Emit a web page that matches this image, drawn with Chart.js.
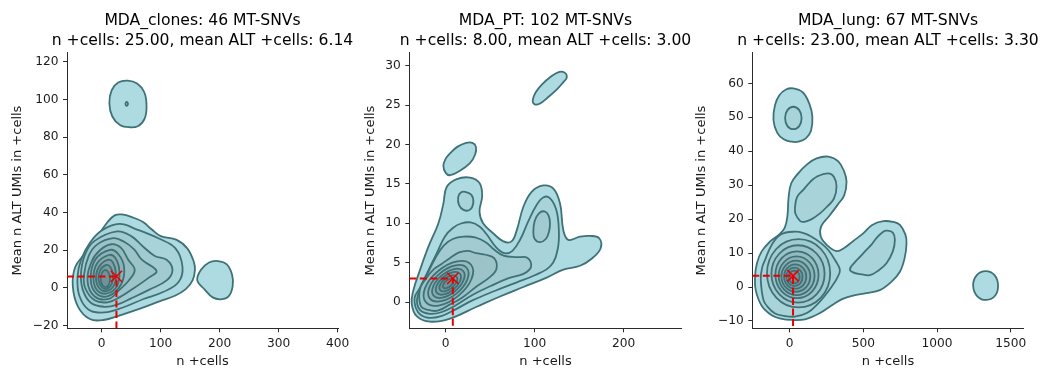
<!DOCTYPE html>
<html><head><meta charset="utf-8">
<script src="https://cdn.jsdelivr.net/npm/chart.js@4.4.1/dist/chart.umd.min.js"></script>
<style>
html,body{margin:0;padding:0;background:#fff;width:1045px;height:372px;overflow:hidden;position:relative}
canvas{position:absolute;top:0}
</style></head><body>
<canvas id="c1" width="405" height="372" style="left:0px"></canvas>
<canvas id="c2" width="401" height="372" style="left:345px"></canvas>
<canvas id="c3" width="396" height="372" style="left:690px"></canvas>
<script>
// ---------- summary values ----------
const sampleNames = ['MDA_clones', 'MDA_PT', 'MDA_lung'];
const nSNVs = [46, 102, 67];
const medianCells = [25, 8, 23];
const meanAlt = [6.14, 3.00, 3.30];

// ---------- tick labels ----------
const clonesXTicks = [0, 100, 200, 300, 400];
const clonesYTicks = [-20, 0, 20, 40, 60, 80, 100, 120];
const ptXTicks = [0, 100, 200];
const ptYTicks = [0, 5, 10, 15, 20, 25, 30];
const lungXTicks = [0, 500, 1000, 1500];
const lungYTicks = [-10, 0, 10, 20, 30, 40, 50, 60];

// ---------- KDE contours (x = n +cells, y = mean ALT UMIs) ----------
// MDA_clones
const clonesL1 = [[34,39],[52,37.5],[70,35],[85,31],[100,27.5],[127,25.5],[145,21],[156,14],[158,9.5],[154,4],[143,-0.5],[125,-4],[99,-7],[65,-11],[31,-14.5],[3,-17],[-20,-16.5],[-40,-10],[-49,1],[-45,11],[-28,18.5],[-8,27],[10,35],[22,38.5]];
const clonesL2 = [[30,34],[60,31],[95,26.5],[125,21],[137,11],[130,3],[105,-2],[70,-6],[35,-10.5],[5,-13],[-22,-11.5],[-38,-4],[-41,6],[-35,15],[-20,24],[0,30.5]];
const clonesL3 = [[26,30],[50,27.5],[70,22],[90,17],[110,15],[120,9.6],[110,4],[80,-1],[50,-5.5],[25,-9],[5,-10],[-18,-8],[-32,-1],[-35,8],[-28,18],[-12,25]];
const clonesL4 = [[20,26.4],[38,24.5],[55,20.5],[68,15],[93,9],[80,5.5],[55,0],[30,-5],[10,-7.6],[-12,-6.5],[-28,0],[-30,7],[-22,17],[-8,23]];
const clonesL5 = [[16,23.2],[32,21.5],[45,15],[56,9.5],[46,4],[30,-1],[12,-5.8],[-12,-4.5],[-24,3.5],[-17,14],[-3,20]];
const clonesL6 = [[14,20.2],[28,18],[38,11],[33,2],[12,-4.2],[-9,-3],[-18.6,4.5],[-11,15]];
const clonesL7 = [[12,17.5],[23,16],[30,9],[26,1],[10,-2.8],[-6,-1.8],[-14,4.5],[-8,13]];
const clonesL8 = [[10,14.9],[19,13.5],[24,8],[21,1.5],[9,-1.6],[-3,-0.5],[-9.6,4.5],[-5,11]];
const clonesL9 = [[8,12.2],[15,11],[19,7],[17,2],[8,-0.5],[0,0.5],[-5.6,4.5],[-2.5,9.5]];
const clonesL10 = [[6,9.6],[11,8.5],[14,5.5],[12.5,2],[7,0.5],[1.5,1.5],[-1.7,4.5],[0.5,8]];
const clonesTop = [[44,110],[60,108.5],[72,104],[76,97],[73,90],[62,86],[47,85.3],[31,86.5],[18,91],[13,98],[17,105],[28,109]];
const clonesTopCore = [[42.4,98.8],[44.5,97.7],[42.4,96.6],[40.3,97.7]];
const clonesRight = [[197,14.3],[212,12.5],[221,7],[222,1],[215,-4.5],[202,-6],[188,-5],[175,-1],[162,4],[168,9.5],[182,13.5]];

// MDA_PT
const ptL1 = [[-38.2,-0.2],[-32.6,-1.8],[-17.6,-2.5],[4.9,-2.1],[34.8,-0.6],[61,0.7],[87.3,1.9],[113.5,3.1],[132.2,4.1],[150.9,4.6],[164,5.5],[174,6.8],[172.5,8.1],[162,8.4],[150.9,8.3],[137.8,7.9],[132.2,9.1],[128.5,12.5],[121,14.4],[109.7,14.8],[96.6,14],[87.3,12.1],[79.8,9.1],[74,7.7],[64.8,7.7],[53.6,8.7],[42,10],[38,11.5],[41,13.5],[38,15.1],[27.3,15.8],[12.4,15.6],[1.1,14.6],[-2.6,12.5],[-8.2,10],[-19.5,7],[-28.8,4.1],[-36.3,1.5]];
const ptL2 = [[-35,0.5],[-31,-1.3],[-20,-2.0],[-5,-1.8],[10,-1.0],[30,0.2],[55,1.4],[80,2.5],[100,3.4],[118,4.6],[126,6.8],[127,9.5],[124,11.8],[117,13.2],[110,13.3],[102,12.3],[93,10.3],[84,8.0],[75,6.5],[66,6.2],[57,6.9],[46,8.6],[38,9.6],[28,10.1],[18,10.0],[8,9.4],[-1,8.3],[-10,6.2],[-20,3.9],[-29,1.8]];
const ptL3 = [[-32,0.5],[-29,-1.0],[-18,-1.5],[-5,-1.3],[10,-0.5],[30,0.9],[50,2.0],[70,3.0],[88,3.6],[96,4.5],[92,5.6],[80,5.7],[65,5.9],[55,6.6],[45,7.6],[33,8.2],[20,8.3],[8,8.0],[-2,7.2],[-12,5.5],[-22,3.2]];
const ptL4 = [[-29,1.6],[-28,-0.5],[-20,-1.0],[-9,-1.1],[5,-0.3],[18,0.5],[35,2.0],[50,3.2],[57,4.2],[55,5.5],[45,6.0],[34,6.2],[25,6.5],[15,6.3],[5,5.6],[-5,4.8],[-13,4.2],[-22,3.0]];
const ptL5 = [[28.3,4.76],[29.1,2.95],[14.5,0.81],[-6.8,-0.42],[-22.3,-0.02],[-23.1,1.79],[-8.5,3.93],[12.8,5.16]];
const ptL6 = [[23.7,4.32],[24.3,2.85],[12.4,1.10],[-5.1,0.10],[-17.7,0.42],[-18.3,1.89],[-6.4,3.64],[11.1,4.65]];
const ptL7 = [[19.7,3.94],[20.1,2.77],[10.4,1.36],[-3.6,0.55],[-13.7,0.80],[-14.1,1.97],[-4.4,3.38],[9.6,4.19]];
const ptL8 = [[16.0,3.59],[16.2,2.68],[8.8,1.59],[-2.1,0.96],[-10.0,1.15],[-10.2,2.06],[-2.8,3.15],[8.1,3.78]];
const ptL9 = [[12.2,3.24],[12.4,2.59],[7.1,1.82],[-0.6,1.37],[-6.2,1.50],[-6.4,2.15],[-1.1,2.92],[6.6,3.37]];
const ptL10 = [[8.8,2.91],[8.8,2.52],[5.4,2.04],[0.6,1.76],[-2.8,1.83],[-2.8,2.22],[0.6,2.70],[5.4,2.98]];
const ptRing = [[22,14],[29,13.6],[31,12.6],[27,11.7],[20,11.7],[15,12.3],[14,13.3],[17,13.9]];
const ptLobe = [[111,11.5],[115.5,11.0],[117.2,10.0],[116,8.9],[112.5,8.0],[106,7.6],[100,8.0],[98.5,8.9],[100,10.3],[105,11.3]];
const ptBlobA = [[-2.6,17.3],[0,16.4],[5,16.1],[15,16.6],[27,17.6],[33,18.7],[34,19.7],[30,20.2],[23,20.2],[13,19.7],[5,18.9],[0,18.2]];
const ptBlobB = [[97.8,25.6],[100,25.1],[106,25.2],[115,26],[125,27],[132,27.9],[136,28.5],[134,29.1],[127,29.2],[118,28.6],[108,27.6],[101,26.6]];

// MDA_lung
const lungL1 = [[13.6,-9.7],[-60,-9.3],[-122,-8.3],[-190,-5.5],[-230,-1],[-235,3],[-222,7],[-190,10.5],[-130,13.5],[-70,15.5],[-33,17.5],[-15,21],[-8,26],[10,30.5],[58,33.5],[120,36.2],[183,37.9],[262,38.4],[330,37],[370,34],[386,31],[370,27],[330,24.5],[270,21],[215,18],[210,15],[250,12.5],[318,10.6],[370,11.5],[430,13.5],[499,15.8],[560,18.3],[635,19.4],[700,19.2],[748,18.3],[785,15.5],[793,12.9],[780,8.5],[748,4.5],[690,1.5],[612,-0.9],[520,-1.8],[430,-2.5],[360,-3.5],[300,-5],[200,-7.8],[104,-9.5]];
const lungL2 = [[36,16.3],[100,15.8],[149,14.8],[210,13],[262,10.9],[310,7.8],[341,5.0],[320,2.5],[285,0.1],[240,-2.5],[194,-4.8],[120,-7.6],[36,-8.7],[-40,-8.5],[-99,-7.8],[-150,-5.8],[-178,-3.8],[-196,2.1],[-188,5.5],[-167,8],[-122,12.4],[-60,15.5]];
const lungL3 = [[60,14.1],[212,11.2],[275,4],[212,-3.1],[60,-6],[-91,-3.1],[-154,4],[-91,11.2]];
const lungL4 = [[56,12.3],[184,9.8],[237,3.9],[184,-2.1],[56,-4.6],[-71,-2.1],[-124,3.9],[-71,9.8]];
const lungL5 = [[50,10.5],[153,8.5],[196,3.6],[153,-1.3],[50,-3.3],[-54,-1.3],[-97,3.6],[-54,8.5]];
const lungL6 = [[47,9],[133,7.3],[169,3.3],[133,-0.7],[47,-2.4],[-39,-0.7],[-75,3.3],[-39,7.3]];
const lungL7 = [[42,7.8],[111,6.4],[140,3.2],[111,-0.1],[42,-1.4],[-27,-0.1],[-56,3.2],[-27,6.4]];
const lungL8 = [[37,6.7],[91,5.6],[113,3.1],[91,0.5],[37,-0.5],[-16,0.5],[-38,3.1],[-16,5.6]];
const lungL9 = [[32,5.7],[72,4.9],[88,3],[72,1.1],[32,0.3],[-7,1.1],[-23,3],[-7,4.9]];
const lungL10 = [[30,4.8],[57,4.3],[68,2.95],[57,1.6],[30,1.1],[4,1.6],[-7,2.95],[4,4.3]];
const lungUpperRing = [[262,33.5],[300,32.5],[318,29.6],[300,26],[250,23.5],[206,21.7],[150,20],[100,19.2],[70,19.5],[40,21.5],[36,23.2],[50,26.5],[92,28.6],[140,31],[183,32.5]];
const lungRightRing = [[409,5.3],[430,4.3],[480,3.8],[544,3.5],[600,4.8],[657,7],[700,10.5],[714,13.9],[700,16],[660,16.6],[635,16.3],[590,14.5],[555,12.5],[522,11],[480,9],[440,7.2]];
const lungTop = [[24.8,58.5],[90,57.3],[135,53.8],[154,50.2],[145,46],[110,43.8],[60,42.8],[13.6,42.8],[-40,43.5],[-85,45.5],[-110,49.2],[-100,53.5],[-70,56.5],[-25,58.2]];
const lungTopCore = [[25,53.1],[65,52.1],[81,49.8],[65,47.4],[25,46.5],[-15,47.4],[-31,49.8],[-15,52.1]];
const lungFar = [[1330,4.7],[1390,3.5],[1414,0.5],[1395,-2.5],[1335,-3.8],[1275,-2.8],[1245,0.4],[1270,3.5]];

// ---------- styling helpers ----------
const FONT = "'DejaVu Sans', sans-serif";
Chart.defaults.font.family = FONT;
Chart.defaults.color = '#1a1a1a';
const LINE_COLOR = 'rgb(62,114,119)';
function levelColor(k) {
  const a = [174, 219, 225], b = [116, 146, 149];
  const t = (k - 1) / 9;
  return 'rgb(' + a.map((v, i) => Math.round(v + (b[i] - v) * t)).join(',') + ')';
}
function contour(arr, level) {
  return {
    type: 'line', closed: true,
    data: arr.map(p => ({x: p[0], y: p[1]})),
    borderColor: LINE_COLOR, borderWidth: 1.8,
    backgroundColor: levelColor(level), fill: 'shape',
    tension: 0.4, spanGaps: true, pointRadius: 0, pointHoverRadius: 0
  };
}
const minus = v => (v < 0 ? '\u2212' + Math.abs(v) : String(v));

const loopPlugin = {
  id: 'closedLoop',
  afterDatasetUpdate(chart, args) {
    const ds = chart.data.datasets[args.index];
    if (ds && ds.closed) {
      const line = args.meta.dataset;
      line._loop = true;
      line._fullLoop = true;
      delete line._segments;
      line._pointsUpdated = false;
    }
  }
};

const panels = [
  {id: 'c1', xr: [-58.8, 400.5], yr: [-21.4, 124.8], yW: 67, yTitlePad: 9.5,
   xt: clonesXTicks, yt: clonesYTicks,
   layers: [[clonesL1,1],[clonesTop,1],[clonesRight,1],[clonesTopCore,2],[clonesL2,2],[clonesL3,3],[clonesL4,4],[clonesL5,5],[clonesL6,6],[clonesL7,7],[clonesL8,8],[clonesL9,9],[clonesL10,10]]},
  {id: 'c2', xr: [-40.9, 265.2], yr: [-3.34, 31.65], yW: 64.3, yTitlePad: 17.9,
   xt: ptXTicks, yt: ptYTicks,
   layers: [[ptL1,1],[ptBlobA,1],[ptBlobB,1],[ptRing,2],[ptL2,2],[ptLobe,3],[ptL3,3],[ptL4,4],[ptL5,5],[ptL6,6],[ptL7,7],[ptL8,8],[ptL9,9],[ptL10,10]]},
  {id: 'c3', xr: [-253.5, 1588], yr: [-12.16, 69.0], yW: 62.3, yTitlePad: 3.9,
   xt: lungXTicks, yt: lungYTicks,
   layers: [[lungL1,1],[lungTop,1],[lungFar,1],[lungTopCore,2],[lungUpperRing,2],[lungRightRing,2],[lungL2,2],[lungL3,3],[lungL4,4],[lungL5,5],[lungL6,6],[lungL7,7],[lungL8,8],[lungL9,9],[lungL10,10]]}
];

panels.forEach((p, i) => {
  const ds = p.layers.map(l => contour(l[0], l[1]));
  ds.push({
    type: 'line',
    data: [{x: p.xr[0], y: meanAlt[i]}, {x: medianCells[i], y: meanAlt[i]}, {x: medianCells[i], y: p.yr[0]}],
    borderColor: 'rgb(230,0,0)', borderWidth: 2, borderDash: [7, 3.5],
    fill: false, tension: 0, pointRadius: 0
  });
  ds.push({
    type: 'line', showLine: false,
    data: [{x: medianCells[i], y: meanAlt[i]}],
    pointStyle: 'crossRot', pointRadius: 8, pointBorderWidth: 1.6,
    pointBorderColor: 'rgb(235,0,0)', borderColor: 'rgb(235,0,0)', fill: false
  });
  ds.reverse();

  const axisCommon = {
    type: 'linear',
    border: {display: true, color: '#2b2b2b', width: 1},
    grid: {display: true, drawOnChartArea: false, drawTicks: true, tickLength: 4, color: '#2b2b2b', tickWidth: 1}
  };
  new Chart(document.getElementById(p.id), {
    type: 'line',
    data: {datasets: ds},
    plugins: [loopPlugin],
    options: {
      responsive: false, animation: false, events: [],
      layout: {padding: 0},
      plugins: {
        legend: {display: false}, tooltip: {enabled: false},
        title: {
          display: true, fullSize: true, color: '#000',
          text: [sampleNames[i] + ': ' + nSNVs[i] + ' MT-SNVs',
                 'n +cells: ' + medianCells[i].toFixed(2) + ', mean ALT +cells: ' + meanAlt[i].toFixed(2)],
          font: {family: FONT, size: 15.6, weight: 'normal', lineHeight: 1.24},
          padding: {top: 11.65, bottom: 2.45}
        }
      },
      scales: {
        x: Object.assign({}, axisCommon, {
          position: 'bottom', min: p.xr[0], max: p.xr[1],
          afterBuildTicks: s => { s.ticks = p.xt.map(v => ({value: v})); },
          afterFit: s => { s.height = 43.7; s.paddingLeft = 0; s.paddingRight = 0; },
          ticks: {font: {family: FONT, size: 12.2}, color: '#1a1a1a', padding: 4, maxRotation: 0, autoSkip: false, callback: v => minus(v)},
          title: {display: true, text: 'n +cells', color: '#1a1a1a', font: {family: FONT, size: 13}, padding: {top: 0, bottom: 2.5}}
        }),
        y: Object.assign({}, axisCommon, {
          position: 'left', min: p.yr[0], max: p.yr[1],
          afterBuildTicks: s => { s.ticks = p.yt.map(v => ({value: v})); },
          afterFit: s => { s.width = p.yW; s.paddingTop = 0; s.paddingBottom = 0; },
          ticks: {font: {family: FONT, size: 12.2}, color: '#1a1a1a', padding: 4.5, autoSkip: false, callback: v => minus(v)},
          title: {display: true, text: 'Mean n ALT UMIs in +cells', color: '#1a1a1a', font: {family: FONT, size: 13}, padding: {top: p.yTitlePad, bottom: 0}}
        }),
        // invisible right-hand spacer so the full-width title centres over the plot area
        yPad: {
          type: 'linear', position: 'right', display: true,
          ticks: {display: false}, grid: {display: false}, border: {display: false}, title: {display: false},
          afterFit: s => { s.width = p.yW; s.paddingTop = 0; s.paddingBottom = 0; }
        }
      }
    }
  });
});
</script>
</body></html>
